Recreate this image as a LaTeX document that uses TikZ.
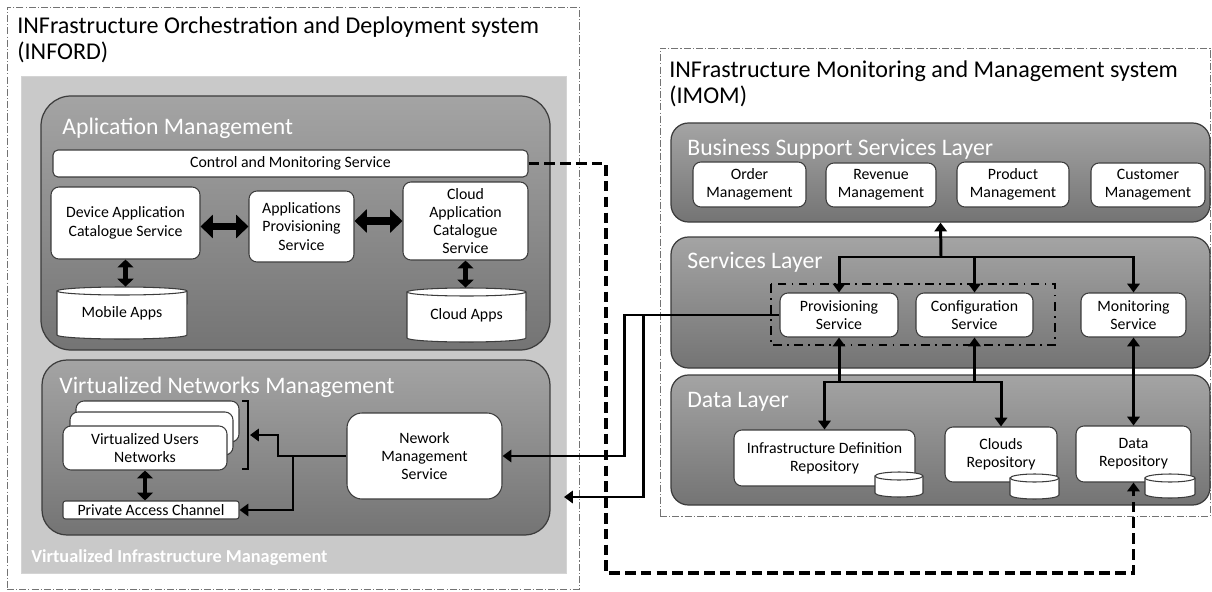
\documentclass[tikz,border=0pt]{standalone}
\usepackage{fontspec}
\setmainfont{Carlito}
\usetikzlibrary{arrows.meta,positioning,calc}
\definecolor{laytop}{RGB}{164,164,164}
\definecolor{laybot}{RGB}{116,116,116}
\definecolor{vimgray}{RGB}{201,201,201}
\definecolor{edgegray}{RGB}{60,60,60}
\newcommand{\pbox}[6]{%
  \node[#2, minimum width={(#5-#3)*0.02cm}, minimum height={(#6-#4)*0.02cm}]
    (#1) at ({(#3+#5)/2},{(#4+#6)/2}) }
\newcommand{\drum}[6]{%
  \filldraw[drumline] (#2,{#3+4}) -- (#2,{#5-4})
    arc[start angle=180, end angle=360, x radius={(#4-#2)*0.01cm}, y radius=0.08cm]
    -- (#4,{#3+4})
    arc[start angle=0, end angle=180, x radius={(#4-#2)*0.01cm}, y radius=0.08cm] -- cycle;
  \draw[drumline] (#4,{#3+4})
    arc[start angle=0, end angle=-180, x radius={(#4-#2)*0.01cm}, y radius=0.08cm];
  \pbox{#1}{drumtext}{#2}{#3}{#4}{#5} {#6};}

\begin{document}
\begin{tikzpicture}[x=0.02cm, y=-0.02cm,
  sysframe/.style={draw=black!55, line width=0.4pt, inner sep=0pt,
    dash pattern=on 4pt off 1.2pt on 0.6pt off 1.2pt},
  systitle/.style={anchor=north west, align=left, inner sep=0pt,
    font=\fontsize{13.7}{15}\selectfont},
  vimbox/.style={fill=vimgray, draw=vimgray!80, inner sep=0pt},
  vimlabel/.style={anchor=base west, inner sep=0pt, text=white,
    font=\fontsize{10.4}{12}\selectfont\bfseries},
  layer/.style={draw=edgegray, line width=0.7pt, inner sep=0pt,
    top color=laytop, bottom color=laybot},
  laytitle/.style={anchor=base west, inner sep=0pt, text=white,
    font=\fontsize{13.5}{15}\selectfont},
  box/.style={draw=edgegray, line width=0.6pt, fill=white, inner sep=0pt,
    rounded corners=0.16cm, align=center,
    font=\fontsize{9}{10.4}\selectfont},
  drumline/.style={draw=edgegray, line width=0.6pt, fill=white},
  drumtext/.style={inner sep=0pt, align=center,
    font=\fontsize{9}{10.4}\selectfont},
  fatarrow/.style={line width=4.5pt,
    {Triangle[length=7pt,width=13pt]}-{Triangle[length=7pt,width=13pt]}},
  midarrow/.style={line width=2.8pt,
    {Triangle[length=4.5pt,width=9pt]}-{Triangle[length=4.5pt,width=9pt]}},
  flow/.style={line width=1.7pt, -{Triangle[length=5pt,width=7pt]}},
  flowboth/.style={line width=1.7pt,
    {Triangle[length=5pt,width=7pt]}-{Triangle[length=5pt,width=7pt]}},
  ctrlline/.style={line width=2pt, dash pattern=on 6pt off 3pt,
    -{Triangle[length=5pt,width=7pt]}},
  groupline/.style={line width=1.4pt,
    dash pattern=on 5pt off 3pt on 1pt off 3pt}]

\useasboundingbox (0,0) rectangle (1212,591);

\pbox{inford}{sysframe}{7}{7}{579}{589} {};
\pbox{imom}{sysframe}{660}{48}{1210}{516} {};
\node[systitle] (infordtitle) at (17,16)
  {INFrastructure Orchestration and Deployment system\\(INFORD)};
\node[systitle] (imomtitle) at (669,60)
  {INFrastructure Monitoring and Management system\\(IMOM)};

\pbox{vim}{vimbox}{21}{76}{566}{573} {};
\node[vimlabel] (vimtitle) at (31,562) {Virtualized Infrastructure Management};

\pbox{appmgmt}{layer, rounded corners=0.6cm}{41}{96}{550}{350} {};
\node[laytitle] (apptitle) at (62,135) {Aplication Management};
\pbox{cms}{box, rounded corners=0.1cm}{53}{150}{528}{177}
  {Control and Monitoring Service};
\pbox{dev}{box}{51}{187}{200}{259}
  {Device Application\\Catalogue Service};
\pbox{appprov}{box}{249}{191}{354}{262}
  {Applications\\Provisioning\\Service};
\pbox{cloudcat}{box}{403}{182}{528}{260}
  {Cloud\\Application\\Catalogue\\Service};
\drum{mobile}{57}{287}{187}{339}{Mobile Apps}
\drum{cloudapps}{407}{288}{526}{342}{Cloud Apps}

\pbox{vnm}{layer, rounded corners=0.5cm}{42}{360}{550}{535} {};
\node[laytitle] (vnmtitle) at (59,393) {Virtualized Networks Management};
\pbox{vunback}{box}{76}{401}{239}{442} {};
\pbox{vunmid}{box}{70}{412}{233}{455} {};
\pbox{vun}{box}{63}{426}{227}{470} {Virtualized Users\\Networks};
\pbox{pac}{box, rounded corners=0.05cm}{63}{501}{239}{519}
  {Private Access Channel};
\pbox{nms}{box, rounded corners=0.3cm}{347}{413}{502}{499}
  {Nework\\Management\\Service};
\draw[line width=1.5pt] (242,401) -- (248,401) -- (248,469) -- (242,469);

\pbox{bss}{layer, rounded corners=0.35cm}{671}{123}{1210}{222} {};
\node[laytitle] (bsstitle) at (687,155) {Business Support Services Layer};
\pbox{order}{box}{693}{162}{806}{207} {Order\\Management};
\pbox{revenue}{box}{826}{163}{936}{207} {Revenue\\Management};
\pbox{product}{box}{957}{162}{1069}{207} {Product\\Management};
\pbox{customer}{box}{1091}{163}{1205}{207} {Customer\\Management};

\pbox{svc}{layer, rounded corners=0.35cm}{671}{237}{1210}{368} {};
\node[laytitle] (svctitle) at (687,268) {Services Layer};
\pbox{prov}{box}{780}{293}{898}{337} {Provisioning\\Service};
\pbox{conf}{box}{916}{293}{1033}{337} {Configuration\\Service};
\pbox{monit}{box}{1081}{293}{1186}{337} {Monitoring\\Service};
\draw[groupline] (771,284) rectangle (1055,345);

\pbox{data}{layer, rounded corners=0.35cm}{671}{375}{1210}{505} {};
\node[laytitle] (datatitle) at (687,407) {Data Layer};
\pbox{infdef}{box}{734}{430}{915}{486}
  {Infrastructure Definition\\Repository};
\pbox{clouds}{box}{945}{427}{1057}{482} {Clouds\\Repository};
\pbox{datarep}{box}{1076}{426}{1191}{482} {Data\\Repository};
\drum{infdefdb}{875}{472}{923}{497}{}
\drum{cloudsdb}{1010}{474}{1059}{499}{}
\drum{datadb}{1145}{474}{1195}{498}{}

\coordinate (brk) at (250,435);
\coordinate (brkbend) at (278,435);
\coordinate (nmsfork) at (293,456);
\coordinate (nmsbend) at (624,456);
\coordinate (provfork) at (643,315);
\coordinate (vimport) at (564,497);
\coordinate (ctrlbend) at (606,573);
\coordinate (svcbus) at (941,257);
\coordinate (databus) at (911,382);

\draw[fatarrow] (dev.east |- appprov.west) -- (appprov.west);
\draw[fatarrow] (appprov.east |- cloudcat.west) -- (cloudcat.west);
\draw[midarrow] (dev.south) -- (dev.south |- mobile.north);
\draw[midarrow] (cloudcat.south) -- (cloudcat.south |- cloudapps.north);
\draw[midarrow] (vun.south) -- (vun.south |- pac.north);

\draw[flow] (nms.west) -| (brkbend) -- (brk);
\draw[flow] (nmsfork) |- (pac.east);
\draw[flow] (prov.west) -| (nmsbend) -- (nms.east);
\draw[flow] (provfork) |- (vimport);

\draw[flow] (svcbus) -- (bss.south);
\draw[flow] (svcbus) -| (prov.north);
\draw[flow] (svcbus) -| (monit.north);
\draw[flow] (conf.north |- svcbus) -- (conf.north);
\draw[flow] (databus) -| (infdef.north);
\draw[flow] (databus) -| (clouds.north);
\draw[flow] (prov.south |- databus) -- (prov.south);
\draw[flow] (conf.south |- databus) -- (conf.south);
\draw[flowboth] (monit.south) -- (datarep.north);

\draw[ctrlline] (cms.east) -| (ctrlbend) -| (datarep.south);

\end{tikzpicture}
\end{document}
